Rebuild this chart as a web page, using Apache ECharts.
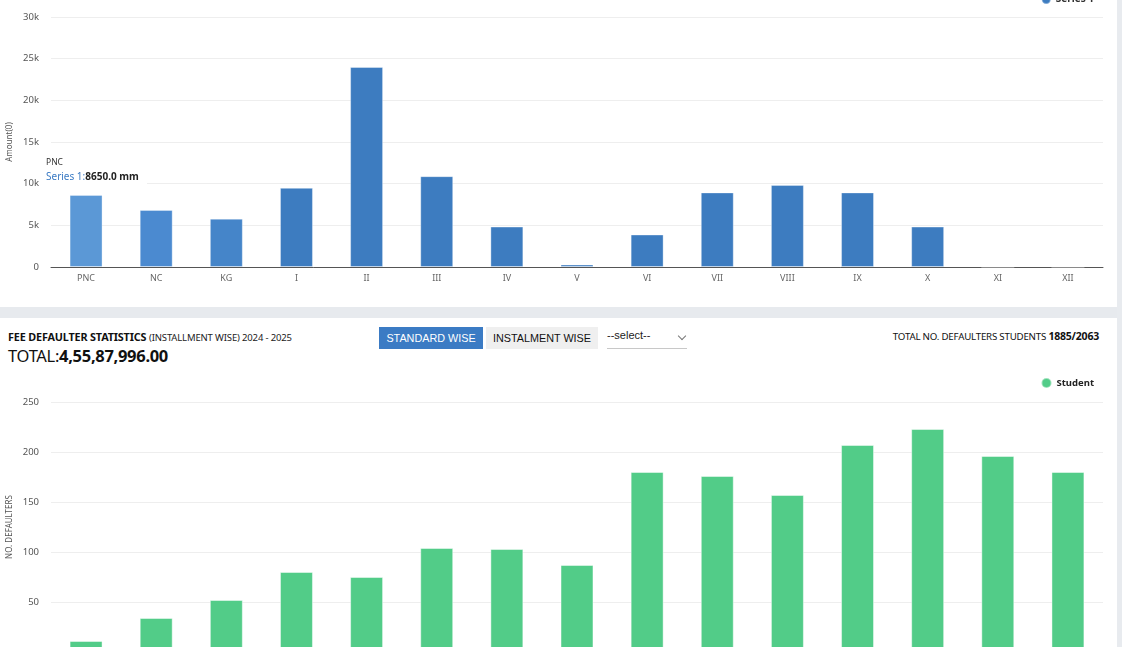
<!DOCTYPE html>
<html>
<head>
<meta charset="utf-8">
<script src="https://cdn.jsdelivr.net/npm/echarts@6/dist/echarts.min.js"></script>
<style>
  html, body { margin:0; padding:0; background:#fff; width:1122px; height:647px; overflow:hidden; font-family:"Noto Sans","Open Sans",sans-serif; }
  #c1 { position:absolute; left:0; top:-20px; width:1117px; height:327px; }
  #c2 { position:absolute; left:0; top:318px; width:1117px; height:382px; }
  #band { position:absolute; left:0; top:307px; width:1117px; height:11px; background:#e7eaee; }
  #strip { position:absolute; left:1117px; top:0; width:5px; height:647px; background:#e8ebef; }
  .hdr { position:absolute; white-space:nowrap; color:#111; }
  #title { left:8px; top:329px; font-size:10.8px; font-weight:bold; letter-spacing:-0.15px; }
  #title span { font-weight:normal; font-size:9.5px; color:#222; }
  #total { left:8px; top:344px; font-size:16.5px; letter-spacing:-0.3px; }
  #total b { font-weight:bold; }
  .btn { position:absolute; top:327px; height:22px; line-height:22px; font-size:10.8px; text-align:center; font-family:"Liberation Sans",Arial,sans-serif; }
  #b1 { left:379px; width:104px; background:#3b7bc4; color:#fff; }
  #b2 { left:486px; width:112px; background:#efefef; color:#111; }
  #sel { position:absolute; left:607px; top:327px; width:80px; height:21px; border-bottom:1px solid #c8c8c8; font-size:11px; color:#222; font-family:"Liberation Sans",Arial,sans-serif; line-height:16px; }
  #chev { position:absolute; left:679px; top:333px; width:5px; height:5px; border-right:1px solid #777; border-bottom:1px solid #777; transform:rotate(45deg); }
  #right { right:23px; top:329px; font-size:9.7px; color:#111; letter-spacing:-0.2px; }
  #right b { font-size:10.5px; }
</style>
</head>
<body>
<div id="c1"></div>
<div id="band"></div>
<div id="strip"></div>
<div id="title" class="hdr">FEE DEFAULTER STATISTICS <span>(INSTALLMENT WISE) 2024 - 2025</span></div>
<div id="total" class="hdr">TOTAL:<b>4,55,87,996.00</b></div>
<div id="b1" class="btn">STANDARD WISE</div>
<div id="b2" class="btn">INSTALMENT WISE</div>
<div id="sel">--select--</div>
<div id="chev"></div>
<div id="right" class="hdr">TOTAL NO. DEFAULTERS STUDENTS <b>1885/2063</b></div>
<div id="c2"></div>
<script>
const categories = ['PNC','NC','KG','I','II','III','IV','V','VI','VII','VIII','IX','X','XI','XII'];
const amountValues = [8650, 6850, 5800, 9500, 24000, 10900, 4850, 300, 3900, 8950, 9850, 8950, 4850, 0, 0];
const amountTicks = [0, 5000, 10000, 15000, 20000, 25000, 30000];
const defaulterValues = [11, 34, 52, 80, 75, 104, 103, 87, 180, 176, 157, 207, 223, 196, 180];
const defaulterTicks = [0, 50, 100, 150, 200, 250];
const barColors1 = ['#5b98d6','#4b8ad0','#4585c9'];

const FONT = '"Noto Sans","Open Sans",sans-serif';

const c1 = echarts.init(document.getElementById('c1'), null, {renderer:'canvas'});
c1.setOption({
  animation:false,
  textStyle:{fontFamily:FONT},
  legend:{ right:18, top:9, itemWidth:9, itemHeight:9, icon:'circle', textStyle:{fontSize:10, color:'#333', fontWeight:'bold'}, data:['Series 1'] },
  grid:{ left:51, right:14, top:37, bottom:40, outerBoundsMode:'none', containLabel:false },
  xAxis:{ type:'category', data:categories, axisTick:{show:false},
    axisLine:{lineStyle:{color:'#555', width:1}},
    axisLabel:{ color:'#666', fontSize:9, margin:7 } },
  yAxis:{ type:'value', min:amountTicks[0], max:amountTicks[amountTicks.length-1], interval:5000,
    name:'Amount(0)', nameLocation:'middle', nameGap:37, nameRotate:90, nameMoveOverlap:false,
    nameTextStyle:{fontSize:8, color:'#555'},
    axisLine:{show:false}, axisTick:{show:false},
    axisLabel:{ color:'#555', fontSize:9.5, margin:12, formatter:v => v===0 ? '0' : (v/1000)+'k' },
    splitLine:{ lineStyle:{color:'#eeeeee', width:1} } },
  series:[{ name:'Series 1', type:'bar', barWidth:'47%',
    data: amountValues.map((v,i)=>({ value:v, itemStyle:{ color: barColors1[i] || '#3d7cc0' } })),
    itemStyle:{ color:'#3d7cc0', borderColor:'rgba(255,255,255,0.35)', borderWidth:1 } }],
  color:['#3d7cc0'],
  graphic:[
    { type:'rect', shape:{x:42, y:170, width:105, height:38}, style:{fill:'#fff'}, z:100 },
    { type:'text', left:46, top:178, z:101, style:{ text:'PNC', fontSize:8.5, fill:'#333', fontFamily:FONT } },
    { type:'text', left:46, top:192, z:101, style:{ text:'{a|Series 1:}{b|8650.0 mm}', fontFamily:FONT,
        rich:{ a:{fontSize:10, fill:'#3b7bc4', fontFamily:FONT}, b:{fontSize:10, fill:'#222', fontWeight:'bold', fontFamily:FONT} } } }
  ]
});

const c2 = echarts.init(document.getElementById('c2'), null, {renderer:'canvas'});
c2.setOption({
  animation:false,
  textStyle:{fontFamily:FONT},
  legend:{ right:18, top:54, itemWidth:10, itemHeight:10, icon:'circle', textStyle:{fontSize:9.5, color:'#222', fontWeight:'bold'}, data:['Student'] },
  grid:{ left:51, right:14, top:84, bottom:48, outerBoundsMode:'none', containLabel:false },
  xAxis:{ type:'category', data:categories, axisTick:{show:false},
    axisLine:{lineStyle:{color:'#555'}}, axisLabel:{ color:'#666', fontSize:9, margin:7 } },
  yAxis:{ type:'value', min:defaulterTicks[0], max:defaulterTicks[defaulterTicks.length-1], interval:50,
    name:'NO. DEFAULTERS', nameLocation:'middle', nameGap:37, nameRotate:90, nameMoveOverlap:false,
    nameTextStyle:{fontSize:8, color:'#555'},
    axisLine:{show:false}, axisTick:{show:false},
    axisLabel:{ color:'#555', fontSize:9.5, margin:12 },
    splitLine:{ lineStyle:{color:'#eeeeee', width:1} } },
  series:[{ name:'Student', type:'bar', barWidth:'47%', data:defaulterValues,
    itemStyle:{ color:'#52cc88', borderColor:'rgba(255,255,255,0.45)', borderWidth:1 } }],
  color:['#52cc88']
});
</script>
</body>
</html>
